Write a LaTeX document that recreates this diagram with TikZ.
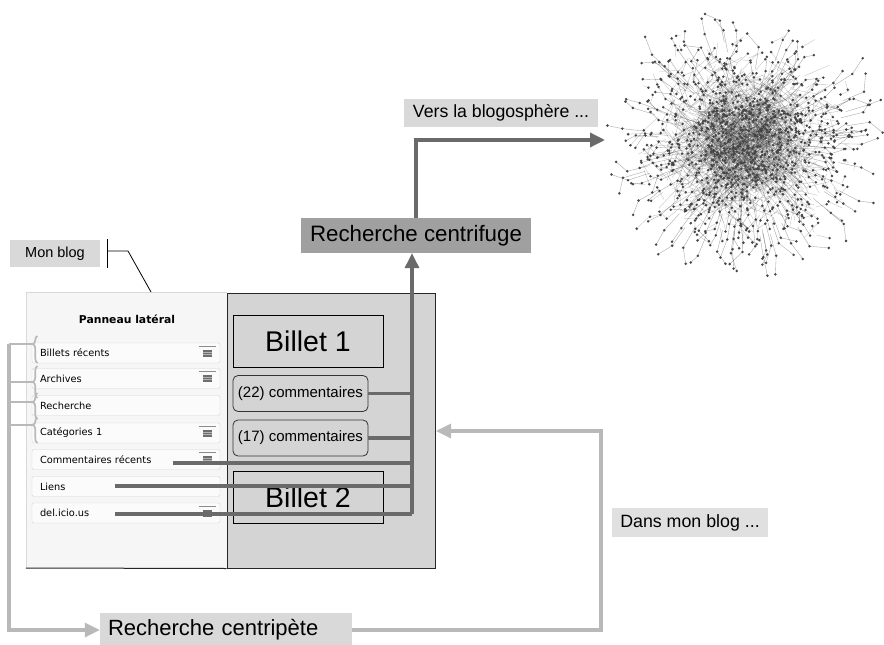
\documentclass[tikz,border=0pt]{standalone}
\usepackage{fontspec}
\setmainfont{Liberation Sans}
\newfontfamily\uifont{DejaVu Sans}
\usetikzlibrary{arrows.meta,decorations.pathreplacing}
\definecolor{darkline}{HTML}{6A6A6A}
\definecolor{lightline}{HTML}{B9B9B9}
\definecolor{panelL}{HTML}{F6F6F6}
\definecolor{panelR}{HTML}{D4D4D4}
\definecolor{rowfill}{HTML}{FBFBFB}
\definecolor{rowline}{HTML}{D6D6D6}
\definecolor{labfill}{HTML}{D9D9D9}
\definecolor{darkfill}{HTML}{A0A0A0}
\definecolor{iconc}{HTML}{6E6E6E}
\begin{document}
\begin{tikzpicture}[x=1pt,y=-1pt,
  lab/.style={fill=labfill,inner sep=0pt,text=black},
  rowbox/.style={draw=rowline,fill=rowfill,rounded corners=1.5pt,minimum width=188pt,minimum height=20pt,inner sep=0pt,text width=172pt,align=left,font=\uifont\fontsize{9.8}{11}\selectfont},
  billet/.style={draw=black,line width=0.8pt,fill=panelR,minimum width=150pt,minimum height=52pt,inner sep=0pt,font=\fontsize{28.5}{30}\selectfont},
  combox/.style={draw=black!80,line width=0.8pt,fill=panelR,rounded corners=5pt,minimum width=135pt,minimum height=36pt,inner sep=0pt,font=\fontsize{15}{17}\selectfont},
  darkc/.style={draw=darkline,line width=3.4pt},
  lightc/.style={draw=lightline,line width=3.2pt},
  darktip/.style={-{Triangle[length=15pt,width=14pt]}},
  brc/.style={draw=lightline,line width=1.7pt,decorate,decoration={brace,amplitude=4.5pt,aspect=#1}},
  netedge/.style={draw=black!80,line width=0.35pt,opacity=0.3},
  netnode/.style={fill=black!72}
]
\useasboundingbox[fill=white] (0,0) rectangle (884,645);

% ---------- network graph ----------
\begin{scope}
\clip (602,0) rectangle (884,292);
\pgfmathsetseed{11}
\foreach \i in {1,...,1500}{
  \pgfmathsetmacro\ax{742+30*(rand+rand+rand)}
  \pgfmathsetmacro\ay{142+28*(rand+rand+rand)}
  \pgfmathsetmacro\bx{\ax+30*rand}
  \pgfmathsetmacro\by{\ay+30*rand}
  \draw[netedge] (\ax,\ay) -- (\bx,\by);
}
\foreach \i in {1,...,900}{
  \pgfmathsetmacro\ax{745+42*(rand+rand+rand)}
  \pgfmathsetmacro\ay{143+40*(rand+rand+rand)}
  \pgfmathsetmacro\bx{\ax+15*rand}
  \pgfmathsetmacro\by{\ay+15*rand}
  \draw[netedge] (\ax,\ay) -- (\bx,\by);
  \fill[netnode] (\bx,\by) circle (1.4);
}
\foreach \i in {1,...,150}{
  \pgfmathsetmacro\th{360*rnd}
  \pgfmathsetmacro\rr{70+55*rnd}
  \pgfmathsetmacro\ox{745+1.05*(\rr-22)*cos(\th)}
  \pgfmathsetmacro\oy{142+(\rr-22)*sin(\th)}
  \pgfmathsetmacro\ax{745+1.05*\rr*cos(\th)}
  \pgfmathsetmacro\ay{142+\rr*sin(\th)}
  \pgfmathsetmacro\ph{\th+60*rand}
  \pgfmathsetmacro\bx{\ax+(8+12*rnd)*cos(\ph)}
  \pgfmathsetmacro\by{\ay+(8+12*rnd)*sin(\ph)}
  \draw[netedge,opacity=0.45] (\ox,\oy) -- (\ax,\ay) -- (\bx,\by);
  \fill[netnode] (\ax,\ay) circle (1.4) (\bx,\by) circle (1.4);
}
\end{scope}

% ---------- blog frame ----------
\fill[panelL] (26,292) rectangle (227,568);
\draw[draw=black!15,line width=0.8pt] (26,568) -- (26,292) -- (227,292);
\node[draw=black!85,line width=1pt,fill=panelR,minimum width=208pt,minimum height=275pt,inner sep=0pt] (blogR) at (331,430.5) {};
\draw[black!85,line width=1pt] (26,568) -- (blogR.south west);

\node[font=\uifont\bfseries\fontsize{10.8}{12}\selectfont] (panneau) at (127,319) {Panneau latéral};

\node[rowbox] (r1) at (126,353) {Billets récents};
\node[rowbox] (r2) at (126,378.5) {Archives};
\node[rowbox] (r3) at (126,405.5) {Recherche};
\node[rowbox] (r4) at (126,433) {Catégories 1};
\node[rowbox] (r5) at (126,459.5) {Commentaires récents};
\node[rowbox] (r6) at (126,486.5) {Liens};
\node[rowbox] (r7) at (126,513) {del.icio.us};

\foreach \t in {343,368,423,449,503}{
  \draw[black!45,line width=0.9pt] (199,\t+3) -- (216,\t+3);
  \fill[iconc] (202.5,\t+6.5) rectangle (211.5,\t+14);
  \draw[white!70!black,line width=0.5pt] (202.5,\t+9) -- (211.5,\t+9) (202.5,\t+11.5) -- (211.5,\t+11.5);
}

\node[billet] (b1) at (308,341) {Billet 1};
\node[billet] (b2) at (308,497) {Billet 2};
\node[combox] (c22) at (300.5,393.5) {(22) commentaires};
\node[combox] (c17) at (300.5,438) {(17) commentaires};

% ---------- Mon blog ----------
\node[lab,minimum width=90pt,minimum height=27pt,font=\fontsize{14.5}{16}\selectfont] (monblog) at (55,253.5) {Mon blog};
\coordinate (mbk) at (107,251);
\draw[black,line width=0.8pt] (107,239) -- (107,268);
\draw[black,line width=0.8pt] (mbk) -- (128,251) -- (151,292);

% ---------- labels ----------
\node[fill=darkfill,inner sep=0pt,minimum width=230pt,minimum height=35pt,font=\fontsize{22.3}{25}\selectfont] (rcf) at (416,235.5) {Recherche centrifuge};
\node[lab,minimum width=194pt,minimum height=28pt,font=\fontsize{17.7}{20}\selectfont] (vers) at (501,113) {Vers la blogosphère ...};
\node[lab,fill=black!12,minimum width=156pt,minimum height=29pt,font=\fontsize{17.8}{20}\selectfont] (dans) at (690,522.5) {Dans mon blog ...};
\node[lab,minimum width=252pt,minimum height=34pt,text width=236pt,align=left,font=\fontsize{22}{24}\selectfont] (rcp) at (226,630) {Recherche centripète};

% ---------- dark connectors ----------
\coordinate (vbot) at (412,514);
\coordinate (crs) at (173,463);
\coordinate (lis) at (115,486);
\coordinate (des) at (115,514);
\coordinate (net) at (605,140);
\draw[darkc] (c22.east) -- (c22.east -| vbot);
\draw[darkc] (c17.east) -- (c17.east -| vbot);
\draw[darkc] (crs) -- (crs -| vbot);
\draw[darkc] (lis) -- (lis -| vbot);
\draw[darkc] (des) -- (vbot);
\draw[darkc,darktip] (vbot) -- (vbot |- rcf.south);
\draw[darkc,darktip] (rcf.north) -- (rcf.north |- net) -- (net);

% ---------- light connectors ----------
\coordinate (lt) at (9,344);
\coordinate (rin) at (436,431);
\coordinate (rcor) at (601,431);
\draw[lightc,darktip] (lt) -- (lt |- rcp.west) -- (rcp.west);
\draw[lightc,darktip] (rcp.east) -- (rcor |- rcp.east) -- (rcor) -- (rin);

% braces
\draw[brc=0.70] (37.5,363) -- (37.5,336);
\draw[brc=0.5] (37.5,398) -- (37.5,366);
\draw[brc=0.65] (37.5,419) -- (37.5,393);
\draw[brc=0.72] (37.5,443) -- (37.5,418);
\draw[draw=lightline,line width=1.7pt] (lt) -- (33,344) (9,382) -- (33,382) (9,402) -- (33,402) (9,425) -- (33,425);
\end{tikzpicture}
\end{document}
